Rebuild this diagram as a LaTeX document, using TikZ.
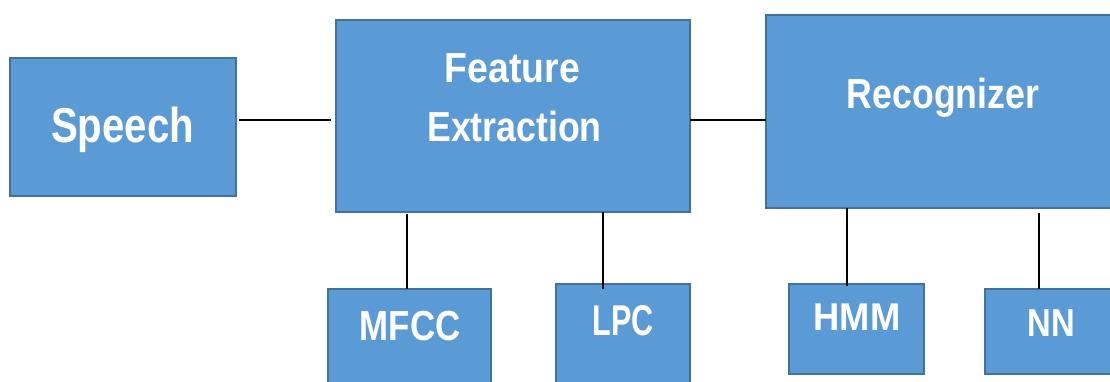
\documentclass[tikz,border=0pt]{standalone}
\usepackage{fontspec}
\setmainfont{Liberation Sans}
\newfontfamily\boxfont{Liberation Sans}[BoldFont={* Bold}]
\definecolor{boxfill}{HTML}{5B9BD5}
\definecolor{boxedge}{HTML}{41719C}
\tikzset{
  blockbox/.style={draw=boxedge, fill=boxfill, line width=2.8pt,
    anchor=north west, inner sep=0pt, outer sep=0pt},
  blocktext/.style={anchor=base, inner sep=0pt, text=white,
    font=\boxfont\bfseries\fontsize{42}{50}\selectfont},
  link/.style={draw=black, line width=2pt}
}
\newcommand{\narrow}[2]{\scalebox{#1}[1]{#2}}
\begin{document}
\begin{tikzpicture}[x=1pt, y=-1pt]
  \useasboundingbox (0,0) rectangle (1110,382);
  \clip (0,0) rectangle (1110,382);

  % blocks
  \node[blockbox, minimum width=226pt, minimum height=138pt] (speech) at (10,58) {};
  \node[blockbox, minimum width=354pt, minimum height=192pt] (fe) at (336,20) {};
  \node[blockbox, minimum width=360pt, minimum height=193pt] (rec) at (766,15) {};
  \node[blockbox, minimum width=163pt, minimum height=110pt] (mfcc) at (328,289) {};
  \node[blockbox, minimum width=134pt, minimum height=110pt] (lpc) at (556,284) {};
  \node[blockbox, minimum width=135pt, minimum height=90pt] (hmm) at (789,284) {};
  \node[blockbox, minimum width=140pt, minimum height=85pt] (nn) at (985,289) {};

  % labels
  \node[blocktext, font=\boxfont\bfseries\fontsize{49}{58}\selectfont] (speechtxt) at (122.5,143) {\narrow{0.82}{Speech}};
  \node[blocktext] (fetxt1) at (512.5,83) {\narrow{0.89}{Feature}};
  \node[blocktext] (fetxt2) at (514.5,142) {\narrow{0.85}{Extraction}};
  \node[blocktext] (rectxt) at (943,109) {\narrow{0.85}{Recognizer}};
  \node[blocktext] (mfcctxt) at (410,340) {\narrow{0.83}{MFCC}};
  \node[blocktext, font=\boxfont\bfseries\fontsize{43}{50}\selectfont] (lpctxt) at (623.5,335) {\narrow{0.71}{LPC}};
  \node[blocktext, font=\boxfont\bfseries\fontsize{38.7}{46}\selectfont] (hmmtxt) at (857,330.7) {\narrow{0.94}{HMM}};
  \node[blocktext, font=\boxfont\bfseries\fontsize{39}{46}\selectfont] (nntxt) at (1051.5,336) {\narrow{0.84}{NN}};

  % connectors (yshift is in page units: negative moves down)
  \draw[link] ([xshift=3pt]speech.east |- 0,120) -- ([xshift=-5pt]fe.west |- 0,120);
  \draw[link] (fe.east |- 0,120) -- (rec.west |- 0,120);
  \draw[link] ([xshift=71pt, yshift=-2pt]fe.south west) -- ([xshift=79pt]mfcc.north west);
  \draw[link] ([xshift=267pt]fe.south west) -- ([xshift=47pt, yshift=-5pt]lpc.north west);
  \draw[link] ([xshift=81pt]rec.south west) -- ([xshift=58pt, yshift=-2pt]hmm.north west);
  \draw[link] ([xshift=273pt, yshift=-5pt]rec.south west) -- ([xshift=54pt]nn.north west);
\end{tikzpicture}
\end{document}
